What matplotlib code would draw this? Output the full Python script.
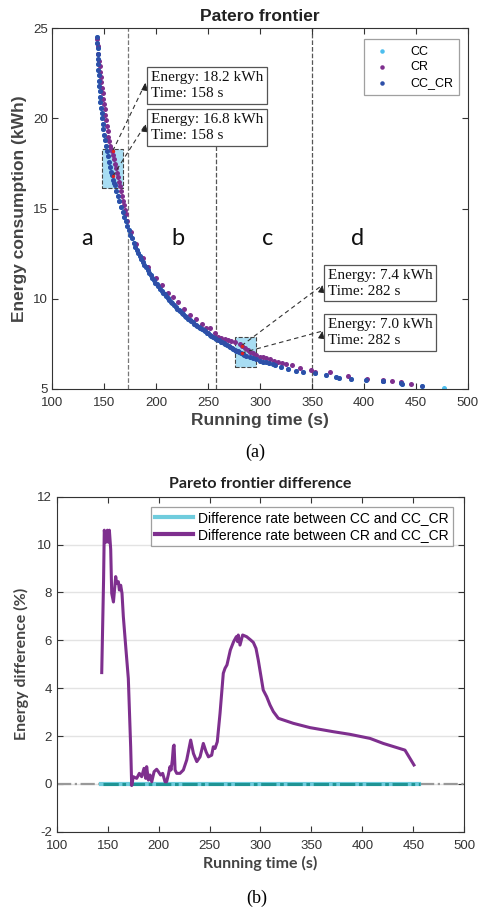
import numpy as np
import matplotlib
matplotlib.use('Agg')
import matplotlib.pyplot as plt
from matplotlib.patches import Rectangle

# ---- Pareto frontier points (running time s, energy kWh) ----
cc_cr_time = [143.1, 143.3, 143.5, 143.7, 143.9, 144.1, 144.3, 144.6, 144.9, 145.2,
              145.5, 145.8, 146.2, 146.7, 147.2, 147.8, 148.4, 149.1, 149.8, 150.6,
              151.4, 152.3, 153.2, 154.2, 155.2, 156.2, 157.2, 158.2, 159.1, 160.0,
              161.5, 163.0, 164.5, 166.0, 167.5, 169.0, 170.5, 172.0, 173.5, 175.0,
              176.5, 178.0, 179.5, 181.0, 182.5, 184.0, 185.5, 187.0, 188.5, 190.0,
              191.5, 193.0, 194.5, 196.0, 197.5, 199.0, 200.5, 202.0, 203.5, 205.0,
              206.5, 208.0, 209.5, 211.0, 212.5, 214.0, 215.5, 217.0, 218.5, 220.0,
              221.5, 223.0, 224.5, 226.0, 227.5, 229.0, 230.5, 232.0, 233.5, 235.0,
              236.5, 238.0, 239.5, 241.0, 242.5, 244.0, 245.5, 247.0, 248.5, 250.0,
              251.5, 253.0, 254.5, 256.0, 257.5, 259.0, 260.5, 262.0, 263.5, 265.0,
              266.5, 268.0, 269.5, 271.0, 272.5, 274.0, 275.5, 277.0, 278.5, 280.0,
              281.5, 283.0, 284.5, 286.7, 290.0, 293.1, 296.0, 299.5, 302.7, 305.9,
              308.5, 312.3, 314.0, 320.4, 326.7, 334.8, 341.2, 352.4, 363.6, 373.3,
              375.5, 387.7, 402.1, 418.0, 418.6, 435.8, 436.3, 455.6]
cc_cr_energy = [24.5, 24.2, 23.9, 23.6, 23.3, 23.0, 22.7, 22.4, 22.1, 21.8,
                21.5, 21.2, 20.9, 20.6, 20.3, 20.0, 19.7, 19.4, 19.1, 18.8,
                18.5, 18.2, 17.9, 17.6, 17.3, 17.05, 16.85, 16.6, 16.45, 16.3,
                16.0, 15.7, 15.4, 15.1, 14.8, 14.55, 14.3, 14.05, 13.8, 13.55,
                13.35, 13.1, 12.9, 12.7, 12.55, 12.4, 12.2, 12.05, 11.9, 11.75,
                11.6, 11.45, 11.3, 11.15, 11.05, 10.9, 10.8, 10.7, 10.55, 10.45,
                10.35, 10.25, 10.15, 10.05, 9.95, 9.85, 9.75, 9.65, 9.55, 9.45,
                9.38, 9.3, 9.22, 9.14, 9.06, 8.98, 8.9, 8.83, 8.76, 8.69,
                8.62, 8.55, 8.49, 8.43, 8.37, 8.31, 8.25, 8.19, 8.13, 8.08,
                8.02, 7.96, 7.91, 7.85, 7.8, 7.74, 7.69, 7.63, 7.58, 7.53,
                7.48, 7.43, 7.38, 7.33, 7.28, 7.23, 7.18, 7.13, 7.08, 7.04,
                7.0, 6.95, 6.9, 6.83, 6.76, 6.7, 6.64, 6.58, 6.51, 6.48,
                6.46, 6.39, 6.31, 6.24, 6.11, 6.0, 5.92, 5.87, 5.79, 5.68,
                5.61, 5.55, 5.5, 5.46, 5.42, 5.32, 5.29, 5.17]

cr_time = [143.3, 143.8, 144.3, 144.8, 145.3, 145.8, 146.4, 147.0, 147.6, 148.2,
           148.8, 149.5, 150.2, 150.9, 151.6, 152.3, 153.1, 153.9, 154.7, 155.5,
           156.3, 157.1, 158.0, 158.9, 159.8, 160.7, 161.7, 162.7, 163.7, 164.7,
           165.7, 166.7, 167.7, 168.7, 169.7, 170.7, 172.0, 176.0, 180.5, 186.8,
           192.0, 199.6, 205.0, 211.0, 216.2, 221.0, 226.5, 232.0, 238.6, 243.5,
           248.0, 251.4, 256.0, 259.5, 262.5, 265.9, 269.0, 272.3, 276.0, 280.3,
           282.0, 285.7, 288.0, 290.0, 293.0, 296.3, 299.5, 302.7, 306.0, 309.1,
           313.0, 317.1, 321.0, 325.2, 330.6, 338.0, 349.2, 352.4, 366.8, 384.4,
           402.7, 418.0, 427.1, 435.7, 445.4]
cr_energy = [24.4, 24.0, 23.6, 23.2, 22.9, 22.6, 22.3, 22.0, 21.7, 21.4,
             21.1, 20.8, 20.5, 20.2, 19.9, 19.6, 19.3, 19.0, 18.75, 18.5,
             18.3, 18.2, 18.0, 17.75, 17.5, 17.25, 17.0, 16.75, 16.5, 16.25,
             16.0, 15.7, 15.45, 15.2, 14.95, 14.7, 14.3, 13.7, 13.05, 12.25,
             11.75, 11.15, 10.75, 10.3, 10.1, 9.85, 9.45, 9.1, 8.9, 8.6,
             8.4, 8.36, 8.1, 7.9, 7.85, 7.8, 7.74, 7.68, 7.6, 7.49,
             7.4, 7.27, 7.15, 7.07, 6.97, 6.88, 6.8, 6.75, 6.7, 6.64,
             6.55, 6.48, 6.42, 6.37, 6.33, 6.18, 6.03, 5.97, 5.92, 5.72,
             5.55, 5.5, 5.46, 5.41, 5.28]

# CC coincides with CC_CR, plus one extra point at the slow end
cc_time = cc_cr_time + [477.4]
cc_energy = cc_cr_energy + [5.04]

# highlighted solutions
marked_time = [158, 158, 282, 282]
marked_energy = [18.2, 16.8, 7.4, 7.0]
marked_text = ['Energy: 18.2 kWh\nTime: 158 s', 'Energy: 16.8 kWh\nTime: 158 s',
               'Energy: 7.4 kWh\nTime: 282 s', 'Energy: 7.0 kWh\nTime: 282 s']
# text anchor (left, top) and arrow head, in data coords
text_pos = [(195.0, 22.65), (195.0, 20.3), (365.2, 11.68), (365.2, 8.94)]
head_pos = [(189.6, 21.97), (189.6, 19.68), (359.8, 10.76), (359.8, 8.21)]

zone_lines = [172.6, 257.9, 349.8]
zone_labels = ['a', 'b', 'c', 'd']
zone_label_x = [133.5, 220.4, 306.9, 393.5]

# ---- Difference curve (running time s, difference %) ----
diff_time = [144.2, 146.0, 146.7, 148.4, 149.7, 150.7, 151.7, 153.0, 154.0, 155.7,
             157.9, 158.9, 160.5, 161.5, 162.8, 164.1, 165.4, 168.0, 170.3, 172.6,
             173.6, 175.2, 178.5, 181.1, 183.4, 185.7, 187.4, 188.3, 190.0, 191.6,
             193.3, 195.6, 198.1, 199.8, 202.0, 204.0, 206.3, 207.9, 209.5, 211.2,
             212.2, 213.5, 214.5, 215.2, 216.2, 217.8, 221.0, 224.3, 227.6, 231.5,
             234.2, 237.5, 240.7, 243.9, 246.6, 248.9, 252.1, 253.7, 255.4, 257.6,
             260.3, 263.5, 265.2, 267.1, 270.4, 273.6, 276.3, 277.6, 278.2, 279.9,
             282.5, 286.4, 290.4, 293.0, 295.6, 297.8, 302.7, 306.1, 309.3, 312.6,
             317.5, 332.2, 348.6, 371.5, 387.8, 407.5, 420.5, 441.8, 450.6]
diff_cr = [4.65, 8.5, 10.6, 10.1, 10.6, 10.1, 10.6, 9.8, 7.96, 7.6,
           8.66, 8.37, 8.45, 8.1, 8.3, 7.96, 6.99, 5.6, 4.4, 1.55,
           -0.07, 0.3, 0.23, 0.44, 0.3, 0.65, 0.23, 0.72, 0.16, 0.37,
           0.09, 0.51, 0.61, 0.51, 0.37, 0.44, 0.09, 0.09, 0.37, 0.72,
           0.58, 1.0, 1.55, 1.62, 0.58, 0.44, 0.44, 0.58, 1.0, 1.83,
           1.27, 0.93, 1.13, 1.69, 1.34, 1.13, 1.2, 1.55, 1.48, 1.76,
           2.95, 4.62, 4.83, 4.97, 5.59, 5.94, 6.15, 5.94, 6.22, 5.8,
           6.22, 6.15, 6.01, 5.91, 5.66, 5.18, 3.92, 3.64, 3.3, 3.02,
           2.74, 2.53, 2.35, 2.18, 2.07, 1.9, 1.69, 1.41, 0.79]
diff_cc = [0.0] * len(cc_cr_time)

c_cc = '#4DBEEE'
c_cr = '#7E2F8E'
c_cccr = '#2E4FA8'
ax_col = '#333333'

plt.rcParams['font.family'] = ['Liberation Sans', 'DejaVu Sans']
plt.rcParams['axes.unicode_minus'] = False

fig = plt.figure(figsize=(4.78, 9.11), dpi=100)

# ================= (a) =================
ax1 = fig.add_axes([0.1098, 0.5730, 0.8692, 0.3959])
for r in [(147.3, 16.17, 20.8, 2.16), (275.5, 6.24, 20.8, 1.66)]:
    ax1.add_patch(Rectangle((r[0], r[1]), r[2], r[3], facecolor='#A8DDF3',
                            edgecolor='#444444', linestyle='--', lw=0.8, zorder=1))
ax1.scatter(cc_time, cc_energy, s=13, color=c_cc, label='CC', zorder=2, linewidths=0)
ax1.scatter(cr_time, cr_energy, s=13, color=c_cr, label='CR', zorder=3, linewidths=0)
ax1.scatter(cc_cr_time, cc_cr_energy, s=13, color=c_cccr, label='CC_CR', zorder=4, linewidths=0)
ax1.scatter(marked_time, marked_energy, s=6, color='#E02020', zorder=6, linewidths=0)

ax1.plot([zone_lines[0]] * 2, [5, 25], ls='--', color='#777777', lw=0.9, zorder=0)
ax1.plot([zone_lines[1]] * 2, [5, 18.7], ls='--', color='#555555', lw=0.9, zorder=0)
ax1.plot([zone_lines[2]] * 2, [5, 25], ls='--', color='#555555', lw=0.9, zorder=0)

for lab, lx in zip(zone_labels, zone_label_x):
    ax1.text(lx, 13.35, lab, fontsize=17, family='Lato', ha='center', va='center', color='#111111')

for (px, py), (hx, hy), (tx, ty), txt in zip(zip(marked_time, marked_energy), head_pos, text_pos, marked_text):
    ax1.plot([px, hx], [py, hy], ls=(0, (4, 3)), color='#333333', lw=0.8, zorder=5)
    ax1.annotate('', xy=(hx, hy), xytext=(hx - 0.6, hy - 0.25),
                 arrowprops=dict(arrowstyle='-|>,head_length=0.45,head_width=0.2',
                                 color='#222222', lw=0.6), zorder=5)
    ax1.text(tx, ty, txt, family='Liberation Serif', fontsize=11, ha='left', va='top',
             linespacing=1.3, color='#111111', zorder=7,
             bbox=dict(boxstyle='square,pad=0.25', facecolor='white', edgecolor='#555555', lw=0.9))

ax1.set_xlim(100, 500)
ax1.set_ylim(5, 25)
ax1.set_xticks(np.arange(100, 501, 50))
ax1.set_yticks([5, 10, 15, 20, 25])
ax1.set_title('Patero frontier', fontsize=12.5, fontweight='bold', color='#222222', pad=5)
ax1.set_xlabel('Running time (s)', fontsize=12.5, fontweight='bold', color='#444444', labelpad=3)
ax1.set_ylabel('Energy consumption (kWh)', fontsize=12.5, fontweight='bold', color='#444444', labelpad=4)
leg1 = ax1.legend(loc='upper right', bbox_to_anchor=(0.979, 0.9695), borderaxespad=0,
                  fontsize=9, fancybox=False, edgecolor='#888888', markerscale=0.9,
                  handletextpad=1.2, borderpad=0.5, labelspacing=0.3)
leg1.get_frame().set_linewidth(0.9)

# ================= (b) =================
ax2 = fig.add_axes([0.1186, 0.0870, 0.8527, 0.3678])
ax2.grid(axis='y', color='#E3E3E3', lw=1.0)
ax2.set_axisbelow(True)
ax2.plot(cc_cr_time, diff_cc, color='#6FCCDD', lw=3.0, label='Difference rate between CC and CC_CR', zorder=3)
ax2.plot(diff_time, diff_cr, color=c_cr, lw=2.2, label='Difference rate between CR and CC_CR', zorder=4)
# zero reference line
ax2.plot([100, 145], [0, 0], ls='-.', color='#999999', lw=1.6, zorder=2)
ax2.plot([457, 500], [0, 0], ls='-.', color='#999999', lw=1.6, zorder=2)
ax2.plot([145, 457], [0, 0], ls=(0, (5, 1.2, 1.2, 1.2)), color='#1E9494', lw=2.2, zorder=3.5)

ax2.set_xlim(100, 500)
ax2.set_ylim(-2, 12)
ax2.set_xticks(np.arange(100, 501, 50))
ax2.set_yticks(np.arange(-2, 13, 2))
ax2.set_title('Pareto frontier difference', fontsize=11.5, fontweight='bold',
              family='Lato', color='#222222', pad=6)
ax2.set_xlabel('Running time (s)', fontsize=11.5, fontweight='bold', family='Lato',
               color='#444444', labelpad=3)
ax2.set_ylabel('Energy difference (%)', fontsize=11.5, fontweight='bold', family='Lato',
               color='#444444', labelpad=6)
leg2 = ax2.legend(loc='upper right', bbox_to_anchor=(0.973, 0.970), borderaxespad=0,
                  fontsize=10, fancybox=False, edgecolor='#888888', handlelength=2.7,
                  handletextpad=0.4, borderpad=0.3, labelspacing=0.2)
leg2.get_frame().set_linewidth(0.9)
for ln in leg2.get_lines():
    ln.set_linewidth(3.0)

for ax in (ax1, ax2):
    ax.tick_params(direction='in', top=True, right=True, labelsize=9.5,
                   colors=ax_col, length=4, width=0.8)
    ax.tick_params(axis='x', pad=6)
    for sp in ax.spines.values():
        sp.set_color(ax_col)
        sp.set_linewidth(0.8)

fig.text(0.533, 0.504, '(a)', family='Liberation Serif', fontsize=13, ha='center', va='center')
fig.text(0.537, 0.0143, '(b)', family='Liberation Serif', fontsize=13, ha='center', va='center')

fig.savefig('out.png', dpi=100)
